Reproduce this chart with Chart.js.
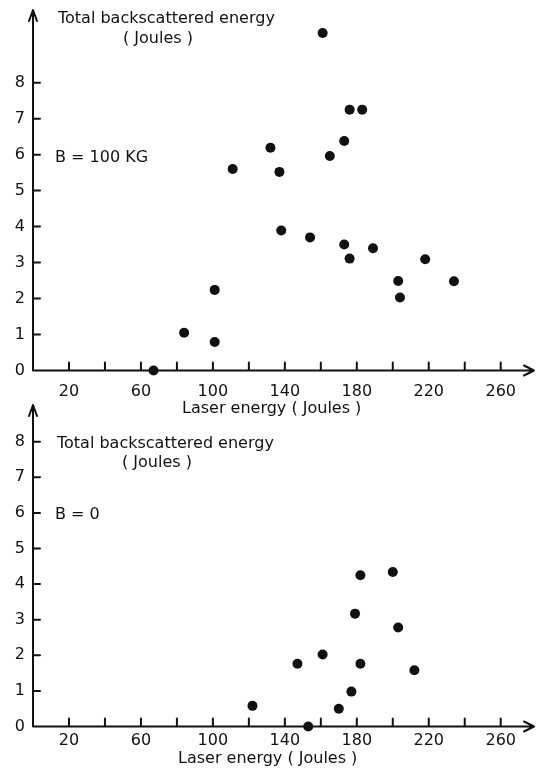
<!DOCTYPE html>
<html>
<head>
<meta charset="utf-8">
<script src="https://cdn.jsdelivr.net/npm/chart.js@4.4.1/dist/chart.umd.min.js"></script>
<style>
html, body { margin: 0; padding: 0; background: #fff; }
#wrap { position: relative; width: 539px; height: 768px; }
canvas { position: absolute; left: 0; }
</style>
</head>
<body>
<div id="wrap">
  <canvas id="chartTop" width="539" height="420" style="top:0px;width:539px;height:420px"></canvas>
  <canvas id="chartBottom" width="539" height="373" style="top:395px;width:539px;height:373px"></canvas>
</div>
<script>
// B = 100 kG
var laserB100 = [161, 176, 183, 173, 132, 165, 111, 137, 138, 154, 173, 189, 176, 218, 203, 234, 204, 101, 84, 101, 67];
var backB100  = [9.38, 7.25, 7.25, 6.38, 6.19, 5.96, 5.6, 5.52, 3.89, 3.7, 3.5, 3.4, 3.11, 3.09, 2.49, 2.48, 2.03, 2.24, 1.05, 0.79, 0];

// B = 0
var laserB0 = [182, 200, 179, 203, 161, 147, 182, 212, 177, 122, 170, 153];
var backB0  = [4.25, 4.34, 3.17, 2.78, 2.02, 1.76, 1.76, 1.58, 0.98, 0.58, 0.5, 0];

// axis ticks
var xTicks  = [20, 40, 60, 80, 100, 120, 140, 160, 180, 200, 220, 240, 260];
var xLabels = [20, 60, 100, 140, 180, 220, 260];
var yTicks  = [0, 1, 2, 3, 4, 5, 6, 7, 8];

var FONT = '"DejaVu Sans", sans-serif';
var INK = '#111';

// axes with arrow heads, inward tick marks and the hand lettering
var axesPlugin = {
    id: 'axesArrows',
    beforeDatasetsDraw: function(chart, args, opts) {
        var ctx = chart.ctx;
        var xs = chart.scales.x, ys = chart.scales.y;
        var x0 = xs.getPixelForValue(0), y0 = ys.getPixelForValue(0);
        var right = chart.chartArea.right, top = chart.chartArea.top;
        ctx.save();
        ctx.strokeStyle = INK;
        ctx.lineWidth = 2;
        ctx.lineCap = 'round';
        ctx.lineJoin = 'round';
        ctx.beginPath();
        ctx.moveTo(x0, y0); ctx.lineTo(right, y0);
        ctx.moveTo(x0, y0); ctx.lineTo(x0, top);
        ctx.moveTo(right - 10, y0 - 5); ctx.lineTo(right, y0); ctx.lineTo(right - 10, y0 + 5);
        ctx.moveTo(x0 - 4, top + 11); ctx.lineTo(x0, top); ctx.lineTo(x0 + 4, top + 11);
        xs.ticks.forEach(function(t) {
            if (t.value > 0) {
                var px = xs.getPixelForValue(t.value);
                ctx.moveTo(px, y0); ctx.lineTo(px, y0 - 8);
            }
        });
        ys.ticks.forEach(function(t) {
            if (t.value > 0) {
                var py = ys.getPixelForValue(t.value);
                ctx.moveTo(x0, py); ctx.lineTo(x0 + 7, py);
            }
        });
        ctx.stroke();
        ctx.fillStyle = INK;
        ctx.font = '16px ' + FONT;
        ctx.textBaseline = 'alphabetic';
        ctx.textAlign = 'left';
        (opts.notes || []).forEach(function(n) {
            ctx.fillText(n[0], n[1], n[2]);
        });
        ctx.restore();
    }
};

function makeChart(id, xs, ys, yMax, xAxisHeight, labelPad, notes) {
    var pts = xs.map(function(v, i) { return { x: v, y: ys[i] }; });
    return new Chart(document.getElementById(id).getContext('2d'), {
        type: 'scatter',
        data: {
            datasets: [{
                data: pts,
                backgroundColor: INK,
                borderColor: INK,
                pointRadius: 5,
                pointBorderWidth: 0,
                clip: false
            }]
        },
        options: {
            responsive: false,
            animation: false,
            devicePixelRatio: 1,
            layout: { padding: { top: 10, right: 1, left: 0, bottom: 0 } },
            plugins: {
                legend: { display: false },
                tooltip: { enabled: false },
                axesArrows: { notes: notes }
            },
            scales: {
                x: {
                    type: 'linear',
                    min: 0,
                    max: 278.5,
                    afterBuildTicks: function(s) { s.ticks = xTicks.map(function(v) { return { value: v }; }); },
                    afterFit: function(s) {
                        s.height = xAxisHeight;
                        s.paddingLeft = 0; s.paddingRight = 0;
                    },
                    grid: { display: false, drawTicks: false },
                    border: { display: false },
                    ticks: {
                        autoSkip: false,
                        maxRotation: 0,
                        padding: labelPad,
                        color: INK,
                        font: { family: FONT, size: 16 },
                        callback: function(v) { return xLabels.indexOf(v) >= 0 ? String(v) : ''; }
                    }
                },
                y: {
                    type: 'linear',
                    min: 0,
                    max: yMax,
                    afterBuildTicks: function(s) { s.ticks = yTicks.map(function(v) { return { value: v }; }); },
                    afterFit: function(s) {
                        s.width = 33;
                        s.paddingTop = 0; s.paddingBottom = 0;
                    },
                    grid: { display: false, drawTicks: false },
                    border: { display: false },
                    ticks: {
                        padding: 8,
                        color: INK,
                        font: { family: FONT, size: 16 },
                        callback: function(v) { return String(v); }
                    }
                }
            }
        },
        plugins: [axesPlugin]
    });
}

makeChart('chartTop', laserB100, backB100, 10.02, 49.5, 12, [
    ['Total backscattered energy', 58, 23],
    ['( Joules )', 123, 43],
    ['B = 100 KG', 55, 162],
    ['Laser energy ( Joules )', 182, 413]
]);

makeChart('chartBottom', laserB0, backB0, 9.03, 41.5, 5, [
    ['Total backscattered energy', 57, 53],
    ['( Joules )', 122, 72],
    ['B = 0', 55, 124],
    ['Laser energy ( Joules )', 178, 368]
]);
</script>
</body>
</html>
